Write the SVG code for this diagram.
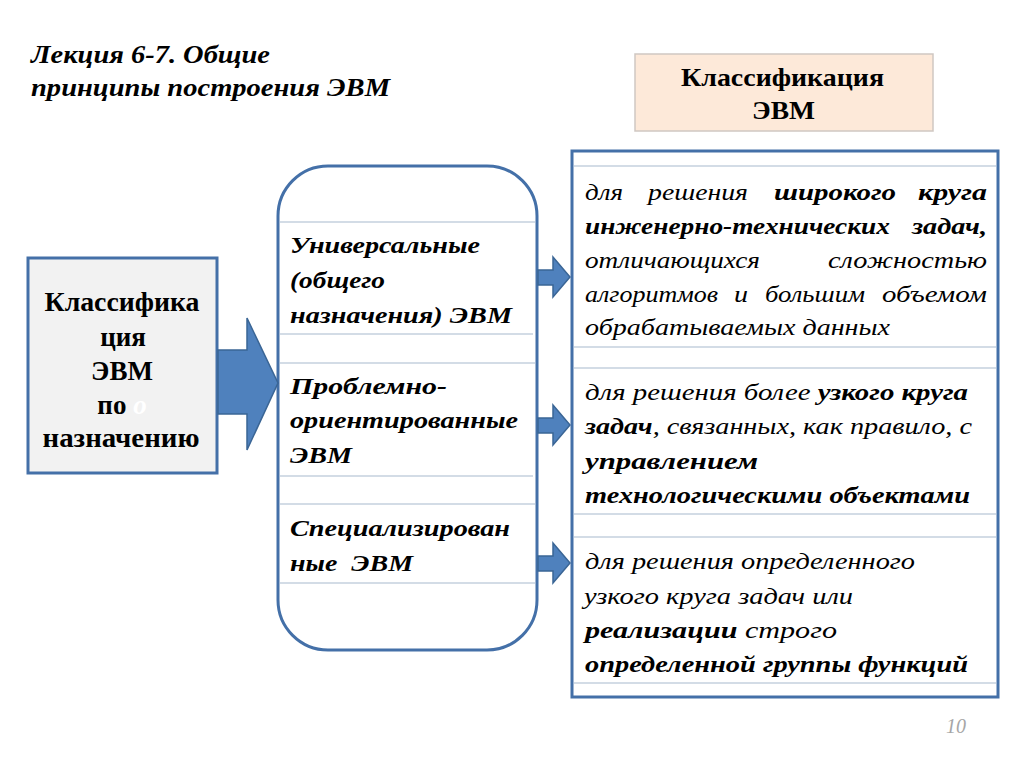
<svg xmlns="http://www.w3.org/2000/svg" width="1024" height="768" viewBox="0 0 1024 768">
<style>
.frame{fill:none;stroke:#4470a8;stroke-width:3}
.sep{stroke:#c5d0de;stroke-width:1.5}
.arrow{fill:#4f81bd;stroke:#3a6595;stroke-width:1.5}
text{font-family:'Times New Roman','Liberation Serif','DejaVu Serif',serif;fill:#000}
</style>
<rect width="1024" height="768" fill="#ffffff"/>
<g id="title" font-style="italic" font-weight="bold" font-size="25">
<text x="31" y="63" textLength="239" lengthAdjust="spacingAndGlyphs">Лекция 6-7. Общие</text>
<text x="31" y="96" textLength="359" lengthAdjust="spacingAndGlyphs">принципы построения ЭВМ</text>
</g>
<g id="header">
<rect x="635" y="54" width="298" height="77" fill="#fde9d9" stroke="#cfc7c2" stroke-width="1.5"/>
<g font-weight="bold" font-size="25">
<text x="681" y="86" textLength="203" lengthAdjust="spacingAndGlyphs">Классификация</text>
<text x="752" y="119" textLength="63" lengthAdjust="spacingAndGlyphs">ЭВМ</text>
</g>
</g>
<g id="source">
<rect x="28" y="258" width="189" height="215" class="frame" style="fill:#f2f2f2"/>
<g font-weight="bold" font-size="27" text-anchor="middle">
<text x="122" y="311" textLength="155" lengthAdjust="spacingAndGlyphs">Классифика</text>
<text x="123" y="346">ция</text>
<text x="122" y="380">ЭВМ</text>
<text x="122" y="414">по <tspan style="fill:#ffffff" font-style="italic">о</tspan></text>
<text x="121" y="447" textLength="157" lengthAdjust="spacingAndGlyphs">назначению</text>
</g>
</g>
<g id="types">
<rect x="278" y="166" width="259" height="484" rx="50" ry="50" class="frame" style="fill:#ffffff"/>
<line class="sep" x1="280" y1="222" x2="535" y2="222"/>
<line class="sep" x1="280" y1="334" x2="533" y2="334"/>
<line class="sep" x1="280" y1="363" x2="535" y2="363"/>
<line class="sep" x1="280" y1="476" x2="533" y2="476"/>
<line class="sep" x1="280" y1="504" x2="535" y2="504"/>
<line class="sep" x1="280" y1="583" x2="535" y2="583"/>
<g font-weight="bold" font-style="italic" font-size="24">
<text x="290" y="253" textLength="190" lengthAdjust="spacingAndGlyphs">Универсальные</text>
<text x="290" y="288" textLength="95" lengthAdjust="spacingAndGlyphs">(общего</text>
<text x="290" y="323" textLength="222" lengthAdjust="spacingAndGlyphs">назначения) ЭВМ</text>
<text x="290" y="394" textLength="157" lengthAdjust="spacingAndGlyphs">Проблемно-</text>
<text x="290" y="428" textLength="228" lengthAdjust="spacingAndGlyphs">ориентированные</text>
<text x="290" y="463" textLength="62" lengthAdjust="spacingAndGlyphs">ЭВМ</text>
<text x="290" y="536" textLength="220" lengthAdjust="spacingAndGlyphs">Специализирован</text>
<text x="290" y="571" textLength="123" lengthAdjust="spacingAndGlyphs" xml:space="preserve">ные  ЭВМ</text>
</g>
</g>
<g id="descriptions">
<rect x="572" y="151" width="426" height="546" class="frame" style="fill:#ffffff"/>
<line class="sep" x1="574" y1="166" x2="996" y2="166"/>
<line class="sep" x1="574" y1="347" x2="996" y2="347"/>
<line class="sep" x1="574" y1="368" x2="996" y2="368"/>
<line class="sep" x1="574" y1="514" x2="996" y2="514"/>
<line class="sep" x1="574" y1="537" x2="996" y2="537"/>
<line class="sep" x1="574" y1="683" x2="996" y2="683"/>
<g font-style="italic" font-size="24">
<text x="585" y="200" textLength="38" lengthAdjust="spacingAndGlyphs">для</text>
<text x="648" y="200" textLength="100" lengthAdjust="spacingAndGlyphs">решения</text>
<text x="774" y="200" textLength="122" lengthAdjust="spacingAndGlyphs" font-weight="bold">широкого</text>
<text x="918" y="200" textLength="69" lengthAdjust="spacingAndGlyphs" font-weight="bold">круга</text>
<text x="585" y="234" textLength="305" lengthAdjust="spacingAndGlyphs" font-weight="bold">инженерно-технических</text>
<text x="912" y="234" textLength="75" lengthAdjust="spacingAndGlyphs" font-weight="bold">задач,</text>
<text x="585" y="268" textLength="175" lengthAdjust="spacingAndGlyphs">отличающихся</text>
<text x="828" y="268" textLength="159" lengthAdjust="spacingAndGlyphs">сложностью</text>
<text x="585" y="302" textLength="133" lengthAdjust="spacingAndGlyphs">алгоритмов</text>
<text x="734" y="302" textLength="14" lengthAdjust="spacingAndGlyphs">и</text>
<text x="765" y="302" textLength="100" lengthAdjust="spacingAndGlyphs">большим</text>
<text x="882" y="302" textLength="105" lengthAdjust="spacingAndGlyphs">объемом</text>
<text x="585" y="335" textLength="305" lengthAdjust="spacingAndGlyphs">обрабатываемых данных</text>
<text x="585" y="400" textLength="383" lengthAdjust="spacingAndGlyphs">для решения более <tspan font-weight="bold">узкого круга</tspan></text>
<text x="585" y="434" textLength="387" lengthAdjust="spacingAndGlyphs"><tspan font-weight="bold">задач</tspan>, связанных, как правило, с</text>
<text x="585" y="469" textLength="173" lengthAdjust="spacingAndGlyphs" font-weight="bold">управлением</text>
<text x="585" y="503" textLength="385" lengthAdjust="spacingAndGlyphs" font-weight="bold">технологическими объектами</text>
<text x="585" y="569" textLength="330" lengthAdjust="spacingAndGlyphs">для решения определенного</text>
<text x="584" y="604" textLength="269" lengthAdjust="spacingAndGlyphs">узкого круга задач или</text>
<text x="585" y="638" textLength="252" lengthAdjust="spacingAndGlyphs"><tspan font-weight="bold">реализации</tspan> строго</text>
<text x="585" y="672" textLength="383" lengthAdjust="spacingAndGlyphs" font-weight="bold">определенной группы функций</text>
</g>
</g>
<g id="connectors">
<path class="arrow" d="M218 350 H247 V318 L278 383 L247 450 V414 H218 Z"/>
<path class="arrow" d="M538 270 H553 V257 L570 277 L553 297 V285 H538 Z"/>
<path class="arrow" d="M538 418 H553 V405 L570 425 L553 445 V433 H538 Z"/>
<path class="arrow" d="M538 556 H553 V543 L570 563 L553 583 V571 H538 Z"/>
</g>
<g id="page">
<text x="966" y="733" font-style="italic" font-size="20" style="fill:#a6a6a6" text-anchor="end">10</text>
</g>
</svg>
